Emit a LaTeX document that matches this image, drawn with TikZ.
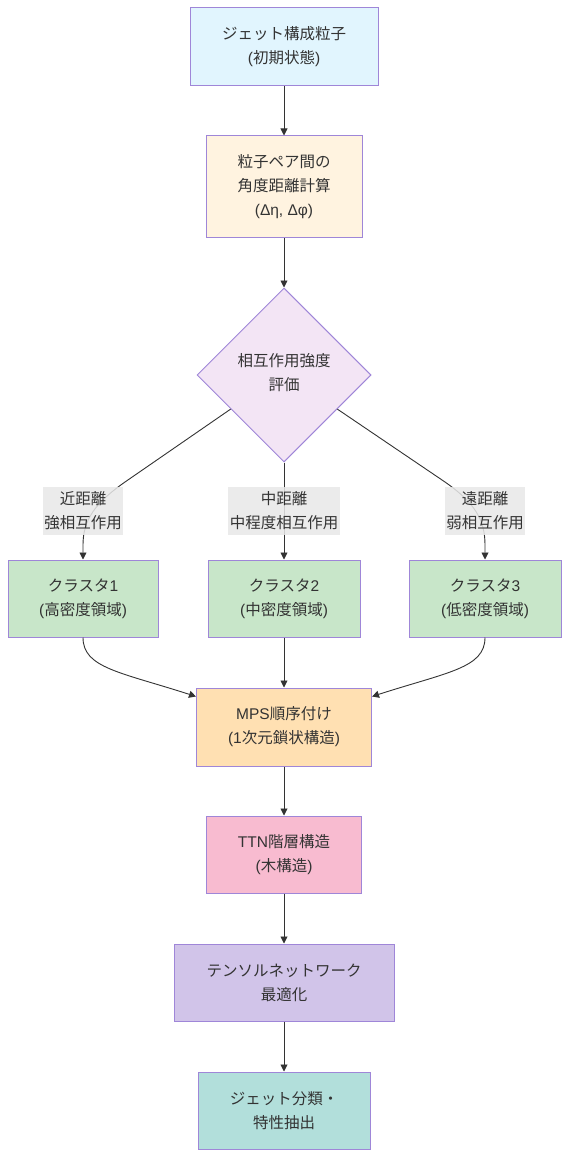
\documentclass[tikz,border=0pt]{standalone}
\usepackage{fontspec}
\setmainfont{Noto Sans CJK JP}
\newfontfamily\lib{Liberation Sans}
\usetikzlibrary{shapes.geometric,arrows.meta,calc}
\definecolor{txt}{HTML}{333333}
\definecolor{bord}{HTML}{9F86D8}
\definecolor{cA}{HTML}{E1F5FE}
\definecolor{cB}{HTML}{FFF3E0}
\definecolor{cC}{HTML}{F3E5F5}
\definecolor{cK}{HTML}{C8E6C9}
\definecolor{cM}{HTML}{FFE0B2}
\definecolor{cT}{HTML}{F8BBD0}
\definecolor{cN}{HTML}{D1C4E9}
\definecolor{cF}{HTML}{B2DFDB}
\definecolor{lbl}{HTML}{E8E8E8}
\begin{document}
\begin{tikzpicture}[x=1pt,y=-1pt,
  every node/.style={font=\fontsize{15.5}{24}\selectfont, text=txt, align=center},
  box/.style={draw=bord, line width=1pt, inner sep=0pt},
  edge/.style={draw=txt, line width=0.9pt},
  arr/.style={edge, -{Triangle[length=7pt,width=7pt]}},
  elabel/.style={fill=lbl, fill opacity=0.85, text opacity=1, inner sep=0pt, minimum height=48pt}]
\useasboundingbox (0,0) rectangle (568,1158);
\node[box, fill=cA, minimum width=188pt, minimum height=78pt] (A) at (284,47) {ジェット構成粒子\\{\lib(}初期状態{\lib)}};
\node[box, fill=cB, minimum width=156pt, minimum height=102pt] (B) at (284,187) {粒子ペア間の\\角度距離計算\\{\lib(Δη, Δφ)}};
\node[box, fill=cC, shape=diamond, aspect=1, minimum width=174pt, minimum height=174pt] (C) at (284,375) {};
\node at (284,373) {相互作用強度\\評価};
\node[box, fill=cK, minimum width=150pt, minimum height=77pt] (K1) at (83,598.5) {クラスタ{\lib 1}\\{\lib(}高密度領域{\lib)}};
\node[box, fill=cK, minimum width=152pt, minimum height=77pt] (K2) at (284,598.5) {クラスタ{\lib 2}\\{\lib(}中密度領域{\lib)}};
\node[box, fill=cK, minimum width=152pt, minimum height=77pt] (K3) at (485,598.5) {クラスタ{\lib 3}\\{\lib(}低密度領域{\lib)}};
\node[box, fill=cM, minimum width=175pt, minimum height=78pt] (M) at (284,727) {{\lib MPS}順序付け\\{\lib(1}次元鎖状構造{\lib)}};
\node[box, fill=cT, minimum width=155pt, minimum height=77pt] (T) at (284,854.5) {{\lib TTN}階層構造\\{\lib(}木構造{\lib)}};
\node[box, fill=cN, minimum width=220pt, minimum height=77pt] (N) at (284,982.5) {テンソルネットワーク\\最適化};
\node[box, fill=cF, minimum width=172pt, minimum height=77pt] (F) at (284,1110.5) {ジェット分類・\\特性抽出};
% connectors
\draw[arr] (A) -- (B);
\draw[arr] (B) -- (C);
\coordinate (c1) at ($(C.west)!0.39!(C.south)$);
\coordinate (c3) at ($(C.east)!0.39!(C.south)$);
\draw[arr] (c1) -- (125,482) .. controls (95,503) and (83,520) .. (83,545) -- (K1.north);
\draw[arr] (C.south) -- (K2.north);
\draw[arr] (c3) -- (445,482) .. controls (475,503) and (485,520) .. (485,545) -- (K3.north);
\coordinate (m1) at ($(M.north west)+(0,9)$);
\coordinate (m3) at ($(M.north east)+(0,9)$);
\draw[arr] (K1.south) .. controls (83,668) and (120,672) .. (m1);
\draw[arr] (K2.south) -- (M.north);
\draw[arr] (K3.south) .. controls (485,668) and (448,672) .. (m3);
\draw[arr] (M) -- (T);
\draw[arr] (T) -- (N);
\draw[arr] (N) -- (F);
% edge labels
\node[elabel, minimum width=80pt] (L1) at (83,511) {近距離\\強相互作用};
\node[elabel, minimum width=112pt] (L2) at (284,511) {中距離\\中程度相互作用};
\node[elabel, minimum width=80pt] (L3) at (485,511) {遠距離\\弱相互作用};
\end{tikzpicture}
\end{document}
